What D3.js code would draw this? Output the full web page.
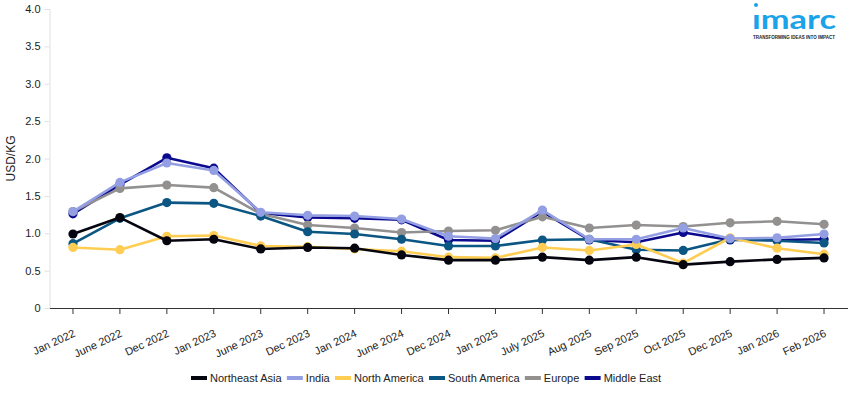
<!DOCTYPE html>
<html>
<head>
<meta charset="utf-8">
<script src="https://cdn.jsdelivr.net/npm/d3@7"></script>
<style>
  html, body { margin: 0; padding: 0; background: #fff; }
  svg { display: block; font-family: "Liberation Sans", Arial, sans-serif; }
</style>
</head>
<body>
<svg id="chart" width="855" height="393"></svg>
<script>
const categories = ["Jan 2022","June 2022","Dec 2022","Jan 2023","June 2023","Dec 2023","Jan 2024","June 2024","Dec 2024","Jan 2025","July 2025","Aug 2025","Sep 2025","Oct 2025","Dec 2025","Jan 2026","Feb 2026"];
const northeastAsia = [0.99,1.21,0.90,0.92,0.79,0.81,0.80,0.71,0.64,0.64,0.68,0.64,0.68,0.58,0.62,0.65,0.67];
const india         = [1.29,1.68,1.94,1.84,1.28,1.24,1.23,1.19,0.96,0.93,1.31,0.92,0.92,1.07,0.93,0.94,0.99];
const northAmerica  = [0.81,0.78,0.96,0.97,0.83,0.82,0.79,0.76,0.68,0.67,0.81,0.77,0.85,0.60,0.94,0.80,0.72];
const southAmerica  = [0.86,1.20,1.41,1.40,1.23,1.02,0.99,0.92,0.83,0.83,0.91,0.92,0.78,0.77,0.92,0.90,0.87];
const europe        = [1.29,1.60,1.645,1.61,1.26,1.11,1.07,1.01,1.03,1.04,1.22,1.07,1.11,1.09,1.14,1.16,1.12];
const middleEast    = [1.26,1.65,2.01,1.87,1.27,1.21,1.20,1.18,0.91,0.90,1.29,0.91,0.88,1.01,0.91,0.91,0.92];
const yTicks = [0,0.5,1.0,1.5,2.0,2.5,3.0,3.5,4.0];
const yTickLabels = ["0","0.5","1.0","1.5","2.0","2.5","3.0","3.5","4.0"];

const seriesNames = ["Northeast Asia","India","North America","South America","Europe","Middle East"];
const seriesValues = [northeastAsia, india, northAmerica, southAmerica, europe, middleEast];
const seriesColors = ["#05050f","#939fe2","#fecd52","#0b5683","#939090","#0b0a8f"];

const svg = d3.select("#chart");
const mLeft = 49.5, mRight = 847.5, mTop = 9, mBottom = 308;

const x = d3.scaleBand().domain(categories).range([mLeft, mRight]).padding(0);
const y = d3.scaleLinear().domain([0, 4]).range([mBottom, mTop]);
const cx = d => x(d) + x.bandwidth() / 2;

// Y axis
const yAxis = svg.append("g").attr("transform", `translate(${mLeft},0)`)
  .call(d3.axisLeft(y).tickValues(yTicks).tickFormat((d, i) => yTickLabels[i]).tickSize(5).tickPadding(4));
yAxis.select(".domain").attr("stroke", "#e0e0e0");
yAxis.selectAll(".tick line").attr("stroke", "#e0e0e0");
yAxis.selectAll(".tick text").attr("fill", "#222").style("font-size", "11px").style("font-family", "Liberation Sans, Arial, sans-serif");

// X axis
const xAxis = svg.append("g").attr("transform", `translate(0,${mBottom})`)
  .call(d3.axisBottom(x).tickSize(6).tickSizeOuter(0));
xAxis.select(".domain").attr("stroke", "#333").attr("stroke-width", 1.2);
xAxis.selectAll(".tick line").attr("stroke", "#333");
xAxis.selectAll(".tick text")
  .attr("fill", "#222")
  .style("font-size", "11px")
  .style("font-family", "Liberation Sans, Arial, sans-serif")
  .attr("text-anchor", "end")
  .attr("x", 0).attr("y", 0).attr("dy", 0)
  .attr("transform", "translate(3,28) rotate(-25)");

// Y label
svg.append("text")
  .attr("transform", `translate(15,${(mTop + mBottom) / 2}) rotate(-90)`)
  .attr("text-anchor", "middle")
  .attr("fill", "#222")
  .style("font-size", "12px")
  .text("USD/KG");

// Lines (draw in reverse legend order)
const line = d3.line().x((d, i) => cx(categories[i])).y(d => y(d));
for (let s = seriesNames.length - 1; s >= 0; s--) {
  const g = svg.append("g");
  g.append("path").datum(seriesValues[s])
    .attr("fill", "none").attr("stroke", seriesColors[s]).attr("stroke-width", 2.6)
    .attr("stroke-linejoin", "round").attr("d", line);
  g.selectAll("circle").data(seriesValues[s]).join("circle")
    .attr("cx", (d, i) => cx(categories[i])).attr("cy", d => y(d))
    .attr("r", 4.6).attr("fill", seriesColors[s]);
}

// Legend
const legend = svg.append("g").attr("transform", "translate(191,378)");
let lx = 0;
seriesNames.forEach((name, i) => {
  const item = legend.append("g").attr("transform", `translate(${lx},0)`);
  item.append("rect").attr("x", 0).attr("y", -2).attr("width", 16).attr("height", 4).attr("fill", seriesColors[i]);
  const t = item.append("text").attr("x", 19).attr("y", 4).attr("fill", "#222")
    .style("font-size", "11px").text(name);
  lx += 19 + t.node().getComputedTextLength() + 5.3;
});

// Logo
const logo = svg.append("g");
logo.append("circle").attr("cx", 756).attr("cy", 5).attr("r", 2).attr("fill", "#1ba3ea");
logo.append("text").attr("x", 752).attr("y", 29).attr("fill", "#1ba3ea")
  .style("font-size", "26px").style("font-weight", "bold").style("font-family", "Lato, 'Open Sans', sans-serif")
  .attr("textLength", 84).attr("lengthAdjust", "spacingAndGlyphs").text("ımarc");
logo.append("text").attr("x", 753).attr("y", 38.5).attr("fill", "#222")
  .style("font-size", "4.5px").style("font-weight", "bold")
  .attr("textLength", 82).attr("lengthAdjust", "spacingAndGlyphs").text("TRANSFORMING IDEAS INTO IMPACT");
</script>
</body>
</html>
